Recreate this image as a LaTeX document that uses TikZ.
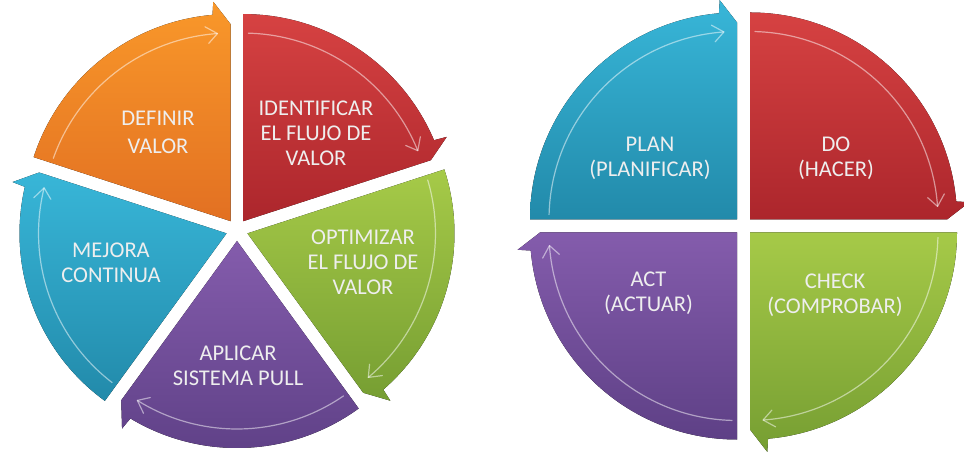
\documentclass[tikz,border=0pt]{standalone}
\usepackage{fontspec}
\setmainfont{Carlito}

\definecolor{orangeT}{RGB}{249,152,42}
\definecolor{orangeB}{RGB}{226,112,34}
\definecolor{redT}{RGB}{214,66,66}
\definecolor{redB}{RGB}{172,38,44}
\definecolor{greenT}{RGB}{166,202,72}
\definecolor{greenB}{RGB}{118,158,50}
\definecolor{cyanT}{RGB}{56,182,216}
\definecolor{cyanB}{RGB}{34,138,170}
\definecolor{purpleT}{RGB}{132,92,172}
\definecolor{purpleB}{RGB}{94,64,134}
\definecolor{labelwhite}{RGB}{238,238,238}

\tikzset{
  seglabel/.style={text=labelwhite, font=\fontsize{22.5}{25}\selectfont,
    align=center, inner sep=0pt},
  glint/.style={draw=white, draw opacity=0.5, line width=1.2pt,
    line cap=round, line join=round},
}

% Radius of the current wheel and outward flare of each arrow head
\def\segR{207}
\def\segFlare{13}

% One segment of a cycle wheel: a pie slice running clockwise from
% angle #3 to angle #4, pushed out by #5 along its bisector, with an
% arrow head at its clockwise end and a light inner glint arrow.
\newcommand\segarrow[7]{%
  \begin{scope}[shift={(#1,#2)}, shift={({(#3+#4)/2}:#5)}]
    \fill[top color=#6, bottom color=#7]
      (0,0) -- (#3:\segR)
      arc[start angle=#3, end angle={#4+5}, radius=\segR]
      -- ({#4+4.5}:{\segR+\segFlare}) -- (#4:{\segR-10}) -- cycle;
    \draw[glint] ({#3-1.5}:{\segR-19})
      arc[start angle={#3-1.5}, end angle={#4+4}, radius={\segR-19}];
    \draw[glint] ({#4+7}:{\segR-28}) -- ({#4+4}:{\segR-19})
      -- ({#4+7.5}:{\segR-11});
  \end{scope}}

\begin{document}
\begin{tikzpicture}[x=1pt, y=1pt]
  \useasboundingbox (0,0) rectangle (964,454);
  \fill[white] (0,0) rectangle (964,454);

  % Five-step lean wheel
  \segarrow{237}{224}{90}{18}{11}{redT}{redB}
  \segarrow{237}{224}{18}{-54}{11}{greenT}{greenB}
  \segarrow{237}{224}{-54}{-126}{11}{purpleT}{purpleB}
  \segarrow{237}{224}{-126}{-198}{11}{cyanT}{cyanB}
  \segarrow{237}{224}{162}{90}{11}{orangeT}{orangeB}

  \node[seglabel, font=\fontsize{22.5}{28}\selectfont] (definir) at (158,321.5) {DEFINIR\\VALOR};
  \node[seglabel] (identificar) at (316,321) {IDENTIFICAR\\EL FLUJO DE\\VALOR};
  \node[seglabel] (optimizar) at (363,191.5) {OPTIMIZAR\\EL FLUJO DE\\VALOR};
  \node[seglabel] (mejora) at (111,191) {MEJORA\\CONTINUA};
  \node[seglabel] (aplicar) at (238,88.5) {APLICAR\\SISTEMA PULL};

  % Four-step PDCA wheel
  \segarrow{743.5}{228}{180}{90}{9.2}{cyanT}{cyanB}
  \segarrow{743.5}{228}{90}{0}{9.2}{redT}{redB}
  \segarrow{743.5}{228}{0}{-90}{9.2}{greenT}{greenB}
  \segarrow{743.5}{228}{-90}{-180}{9.2}{purpleT}{purpleB}

  \node[seglabel] (plan) at (650,296) {PLAN\\(PLANIFICAR)};
  \node[seglabel] (do) at (836,296) {DO\\(HACER)};
  \node[seglabel] (act) at (648.5,161) {ACT\\(ACTUAR)};
  \node[seglabel] (check) at (835,159) {CHECK\\(COMPROBAR)};
\end{tikzpicture}
\end{document}
